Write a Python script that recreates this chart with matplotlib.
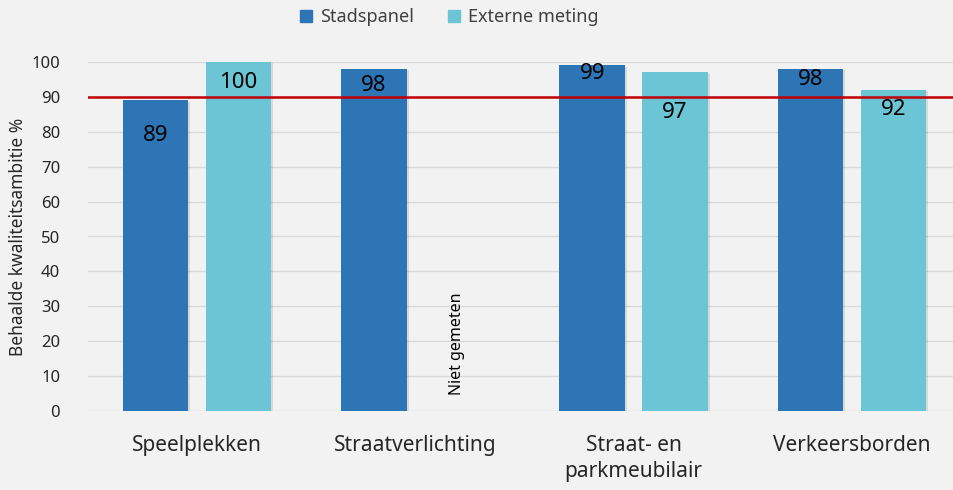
import matplotlib.pyplot as plt
import matplotlib.patheffects as pe
from matplotlib.patches import Patch
import numpy as np

plt.rcParams['font.family'] = ['Noto Sans', 'DejaVu Sans']

categories = ['Speelplekken', 'Straatverlichting', 'Straat- en\nparkmeubilair', 'Verkeersborden']
stadspanel = [89, 98, 99, 98]
extern = [100, np.nan, 97, 92]  # Straatverlichting niet gemeten
norm = 90

c_stad = '#2E75B6'
c_ext = '#6BC5D5'
bg = '#F2F2F2'

# label distance below bar top (pixels), placed by hand in the original
off_stad = [35, 17, 8, 11]
off_ext = [20, 0, 40, 20]

fig = plt.figure(figsize=(9.54, 4.90), dpi=100, facecolor=bg)
ax = fig.add_axes([88/954, 79/490, 873/954, 349/490], facecolor=bg)

x = np.arange(len(categories))
w = 0.30
d = 0.19

shadow = [pe.SimplePatchShadow(offset=(1.5, -1), shadow_rgbFace='k', alpha=0.1), pe.Normal()]
b1 = ax.bar(x - d, stadspanel, w, color=c_stad, zorder=3)
b2 = ax.bar(x + d, extern, w, color=c_ext, zorder=3)
for b in list(b1) + list(b2):
    b.set_path_effects(shadow)

for i in range(len(categories)):
    ax.annotate(str(stadspanel[i]), (x[i] - d, stadspanel[i]), xytext=(0, -off_stad[i]),
                textcoords='offset pixels', ha='center', va='center', fontsize=16, zorder=5)
    if np.isnan(extern[i]):
        ax.text(x[i] + d, 4.5, 'Niet gemeten', rotation=90, ha='center', va='bottom',
                fontsize=11.5, zorder=5)
    else:
        ax.annotate(str(extern[i]), (x[i] + d, extern[i]), xytext=(0, -off_ext[i]),
                    textcoords='offset pixels', ha='center', va='center', fontsize=16, zorder=5)

ax.axhline(norm, color='#C00000', lw=1.8, zorder=4)

ax.set_ylim(0, 100)
ax.set_xlim(-0.5, len(categories) - 0.5)
ax.set_yticks(np.arange(0, 101, 10))
ax.grid(axis='y', color='#D9D9D9', lw=1, zorder=0)
for s in ax.spines.values():
    s.set_visible(False)
ax.tick_params(length=0)
ax.tick_params(axis='y', labelsize=12, labelcolor='#262626', pad=20)
ax.set_xticks(x)
ax.set_xticklabels(categories, fontsize=15, color='#262626', linespacing=1.35)
ax.tick_params(axis='x', pad=17)
ax.set_ylabel('Behaalde kwaliteitsambitie %', fontsize=12.5, color='#262626')
ax.yaxis.set_label_coords(-0.07, 0.5)

handles = [Patch(color=c_stad, label='Stadspanel'), Patch(color=c_ext, label='Externe meting')]
fig.legend(handles=handles, loc='upper center', bbox_to_anchor=(0.471, 1.017), ncol=2,
           frameon=False, fontsize=13, handlelength=0.65, handleheight=0.65,
           columnspacing=1.9, handletextpad=0.45, labelcolor='#404040')

fig.savefig('out.png', dpi=100, facecolor=bg)
